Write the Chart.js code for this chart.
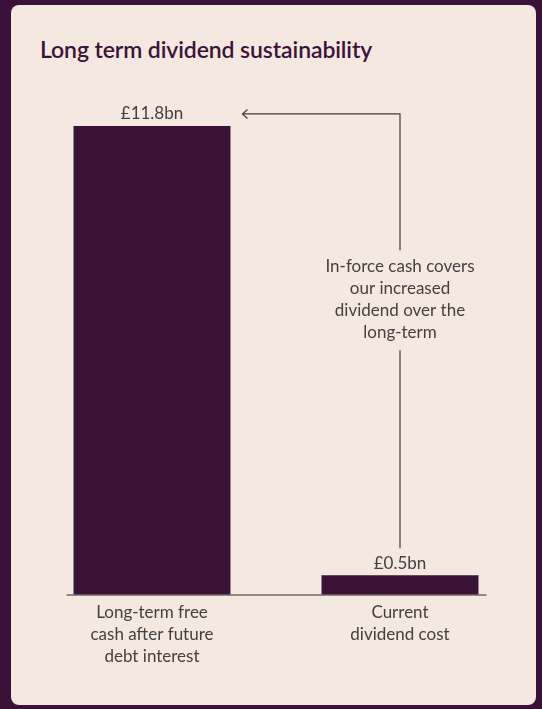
<!DOCTYPE html>
<html>
<head>
<meta charset="utf-8">
<script src="https://cdn.jsdelivr.net/npm/chart.js@4.4.1/dist/chart.umd.min.js"></script>
<style>
  html, body { margin: 0; padding: 0; background: #3a1239; width: 542px; height: 709px; overflow: hidden; }
  #card { position: absolute; left: 11px; top: 5px; width: 525px; height: 700px; background: #f5e8e0; border-radius: 8px; }
  h1 { position: absolute; left: 29px; top: 30px; margin: 0; font: 600 23px Lato, sans-serif; color: #3b1339; letter-spacing: -0.1px; }
  canvas { position: absolute; left: 0; top: 0; }
</style>
</head>
<body>
<div id="card">
  <h1>Long term dividend sustainability</h1>
  <canvas id="c" width="525" height="700"></canvas>
</div>
<script>
// Categories (multi-line axis labels) and values in £bn
const categories = [
  ["Long-term free", "cash after future", "debt interest"],
  ["Current", "dividend cost"]
];
const values = [11.8, 0.5];
const valueLabels = ["£11.8bn", "£0.5bn"];
const noteLines = ["In-force cash covers", "our increased", "dividend over the", "long-term"];

const barColor = "#3b1339";
const textColor = "#444041";
const lineColor = "#3c3c3c";
const labelFont = "400 17px Lato, sans-serif";

// Baseline, value labels and the connector note between the two bars
const decorations = {
  id: "decorations",
  afterDatasetsDraw(chart) {
    const ctx = chart.ctx;
    const bars = chart.getDatasetMeta(0).data;
    const b1 = bars[0], b2 = bars[1];
    const area = chart.chartArea;
    const base = chart.scales.y.getPixelForValue(0);

    ctx.save();
    // baseline under the bars
    ctx.strokeStyle = "#6e6a6a";
    ctx.lineWidth = 1.5;
    ctx.beginPath();
    ctx.moveTo(b1.x - b1.width / 2 - 7, base);
    ctx.lineTo(b2.x + b2.width / 2 + 8, base);
    ctx.stroke();

    // value labels above bars
    ctx.fillStyle = textColor;
    ctx.font = labelFont;
    ctx.textAlign = "center";
    ctx.textBaseline = "middle";
    bars.forEach((b, i) => ctx.fillText(valueLabels[i], b.x, b.y - 12));

    // note text
    const noteY = area.top + 0.38 * (area.bottom - area.top);
    const lh = 22;
    const firstY = noteY - lh * (noteLines.length - 1) / 2;
    noteLines.forEach((t, i) => ctx.fillText(t, b2.x, firstY + i * lh));

    // connector: from the small bar's label up, then left to the large bar's label
    const arrowY = b1.y - 12;
    const arrowX = b1.x + b1.width / 2 + 12;
    ctx.strokeStyle = lineColor;
    ctx.lineWidth = 1.2;
    ctx.beginPath();
    ctx.moveTo(b2.x, firstY - 16);
    ctx.lineTo(b2.x, arrowY);
    ctx.lineTo(arrowX, arrowY);
    ctx.stroke();
    ctx.beginPath();
    ctx.moveTo(arrowX + 5, arrowY - 4.5);
    ctx.lineTo(arrowX, arrowY);
    ctx.lineTo(arrowX + 5, arrowY + 4.5);
    ctx.stroke();
    ctx.beginPath();
    ctx.moveTo(b2.x, firstY + (noteLines.length - 1) * lh + 18);
    ctx.lineTo(b2.x, b2.y - 27);
    ctx.stroke();
    ctx.restore();
  }
};

new Chart(document.getElementById("c"), {
  type: "bar",
  data: {
    labels: categories,
    datasets: [{
      data: values,
      backgroundColor: barColor,
      borderWidth: 0,
      barPercentage: 0.633,
      categoryPercentage: 1
    }]
  },
  options: {
    responsive: false,
    animation: false,
    layout: { padding: { left: 17, right: 12, top: 113, bottom: 30 } },
    plugins: { legend: { display: false }, tooltip: { enabled: false }, title: { display: false } },
    scales: {
      y: { display: false, min: 0, max: 12 },
      x: {
        grid: { display: false, drawTicks: false },
        border: { display: false },
        ticks: {
          color: textColor,
          font: { family: "Lato, sans-serif", size: 17, weight: 400, lineHeight: 22 / 17 },
          padding: 7,
          maxRotation: 0,
          autoSkip: false
        }
      }
    }
  },
  plugins: [decorations]
});
</script>
</body>
</html>
